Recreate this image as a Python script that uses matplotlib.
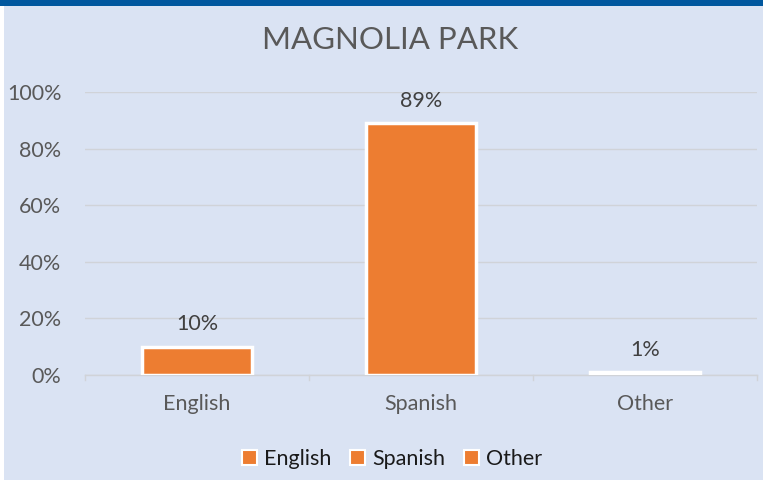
import matplotlib
matplotlib.use("Agg")
import matplotlib.pyplot as plt
from matplotlib.patches import Rectangle, Patch

categories = ["English", "Spanish", "Other"]
values = [10, 89, 1]
labels = ["10%", "89%", "1%"]
yticks = [0, 20, 40, 60, 80, 100]
title = "MAGNOLIA PARK"

plt.rcParams['font.family'] = ['Lato', 'DejaVu Sans']
bg = "#DAE3F3"
orange = "#ED7D31"

fig = plt.figure(figsize=(7.63, 4.8), dpi=100)
fig.patch.set_facecolor("white")
fig.patches.append(Rectangle((4/763, 0), 1, 1, transform=fig.transFigure, facecolor=bg, edgecolor="none", zorder=-2))
fig.patches.append(Rectangle((0, 1 - 6/480), 1, 6/480, transform=fig.transFigure, facecolor="#00579E", edgecolor="none", zorder=-1))

ax = fig.add_axes([85/763, 105/480, 672/763, 283/480])
ax.set_facecolor("none")
x = list(range(len(categories)))
ax.bar(x, values, width=0.49, color=orange, edgecolor="white", linewidth=2.5, zorder=3)
for xi, v, lab in zip(x, values, labels):
    ax.annotate(lab, (xi, v), xytext=(0, 9), textcoords="offset points", ha="center", va="bottom",
                fontsize=15.5, color="#404040")
ax.set_xlim(-0.5, 2.5)
ax.set_ylim(0, 100)
ax.set_yticks(yticks)
ax.set_yticklabels([f"{t}%" for t in yticks], fontsize=15.5, color="#595959")
ax.set_xticks(x)
ax.set_xticklabels(categories, fontsize=15.5, color="#595959")
ax.tick_params(axis="y", length=0, pad=17)
ax.tick_params(axis="x", length=0, pad=14)
ax.grid(axis="y", color="#D0D3D8", linewidth=1, zorder=0)
for s in ["top", "right", "left"]:
    ax.spines[s].set_visible(False)
ax.spines["bottom"].set_color("#D0D3D8")
ax.spines["bottom"].set_linewidth(1)
for xb in [-0.5, 0.5, 1.5, 2.5]:
    ax.plot([xb, xb], [0, -1.8], color="#D0D3D8", lw=1, clip_on=False)

fig.text(390/763, 1 - 40/480, title, ha="center", va="center", fontsize=22.5, color="#595959")

handles = [Patch(facecolor=orange, edgecolor="white", linewidth=1.5, label=c) for c in categories]
fig.legend(handles=handles, loc="center", bbox_to_anchor=(392/763, 1 - 459/480), ncol=3, frameon=False,
           fontsize=15.5, labelcolor="#1a1a1a", handlelength=0.7, handleheight=0.7,
           handletextpad=0.3, columnspacing=0.9)

fig.savefig("out.png", dpi=100, facecolor=fig.get_facecolor())
